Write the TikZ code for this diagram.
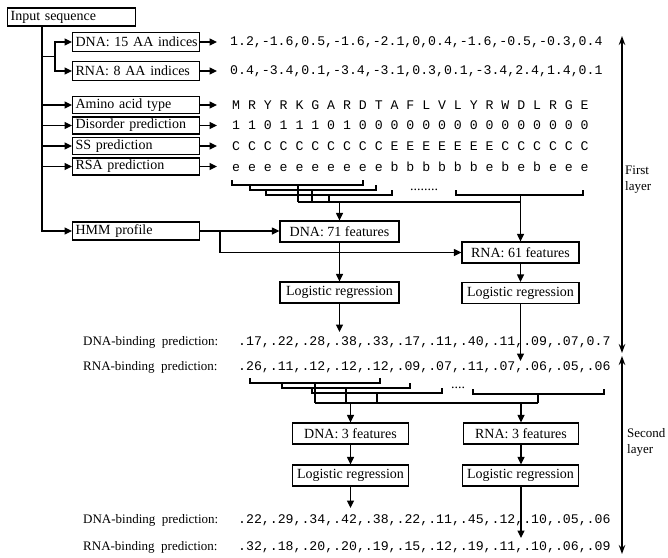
\documentclass[tikz,border=0pt]{standalone}
\usepackage{fontspec}
\setmainfont{Liberation Serif}
\newfontfamily\monofam{Liberation Mono}
\usetikzlibrary{arrows.meta}
\newcommand\myboxfont{\fontsize{14}{16}\selectfont}
\newcommand\mymono{\monofam\fontsize{13.2}{15}\selectfont}
\newcommand\mylab{\fontsize{13}{16}\selectfont}
\begin{document}
\begin{tikzpicture}[x=1pt,y=-1pt,
  lbox/.style={draw, line width=1.2pt, font=\myboxfont, inner xsep=3pt, inner ysep=0pt,
    minimum height=18pt, text width=121pt, align=left, anchor=west},
  cbox/.style={draw, line width=1.2pt, font=\myboxfont, inner sep=0pt, minimum height=21pt},
  vals/.style={font=\mymono, inner xsep=13pt, inner ysep=1pt, anchor=west},
  pv/.style={font=\mymono, inner sep=0pt, anchor=west},
  lab/.style={font=\mylab, inner sep=0pt, anchor=west},
  side/.style={font=\mylab, inner sep=0pt, anchor=west, align=left},
  dotsty/.style={font=\myboxfont, inner sep=0pt},
  arr/.style={line width=1.2pt, -{Triangle[length=7.5pt,width=7pt]}},
  ln/.style={line width=1.2pt},
  dbl/.style={line width=1.3pt, {Stealth[length=9pt,width=6.5pt]}-{Stealth[length=9pt,width=6.5pt]}}]
\useasboundingbox (0,0) rectangle (668,557);

% ---------- first layer boxes ----------
\node[lbox, text width=122pt] (in) at (7,17) {Input sequence};
\node[lbox, minimum height=19pt] (dna15) at (72,42) {\mbox{DNA: 15 AA indices}};
\node[lbox, minimum height=19pt] (rna8) at (72,71) {RNA: 8 AA indices};
\node[lbox, minimum height=17pt] (aa) at (72,105) {Amino acid type};
\node[lbox, minimum height=17pt] (dis) at (72,125.5) {Disorder prediction};
\node[lbox, minimum height=17pt] (ss) at (72,146) {SS prediction};
\node[lbox, minimum height=17pt] (rsa) at (72,166.5) {RSA prediction};
\node[lbox] (hmm) at (72,231) {HMM profile};

% ---------- value rows ----------
\node[vals] (v1) at (217,42) {1.2,-1.6,0.5,-1.6,-2.1,0,0.4,-1.6,-0.5,-0.3,0.4};
\node[vals] (v2) at (217,71) {0.4,-3.4,0.1,-3.4,-3.1,0.3,0.1,-3.4,2.4,1.4,0.1};
\node[vals, inner xsep=15pt] (v3) at (217,105) {M R Y R K G A R D T A F L V L Y R W D L R G E};
\node[vals, inner xsep=15pt] (v4) at (217,125.5) {1 1 0 1 1 1 0 1 0 0 0 0 0 0 0 0 0 0 0 0 0 0 0};
\node[vals, inner xsep=15pt] (v5) at (217,146) {C C C C C C C C C C E E E E E E E C C C C C C};
\node[vals, inner xsep=15pt] (v6) at (217,166.5) {e e e e e e e e e e b b b b b b e b e b e e e};

% ---------- trunk and branches ----------
\coordinate (tr) at (42,26);
\coordinate (br) at (55,56.5);
\draw[arr] (tr) |- (hmm.west);
\draw[ln] (tr |- br) -- (br);
\draw[arr] (br) |- (dna15.west);
\draw[arr] (br) |- (rna8.west);
\draw[arr] (tr |- aa.west) -- (aa.west);
\draw[arr] (tr |- dis.west) -- (dis.west);
\draw[arr] (tr |- ss.west) -- (ss.west);
\draw[arr] (tr |- rsa.west) -- (rsa.west);
\foreach \a/\b in {dna15/v1, rna8/v2, aa/v3, dis/v4, ss/v5, rsa/v6}
  \draw[arr] (\a.east) -- (\a.east -| \b.west);

% ---------- first-layer feature boxes ----------
\node[cbox, minimum width=119pt] (dna71) at (339.5,231.5) {DNA: 71 features};
\node[cbox, minimum width=117pt] (rna61) at (520.5,252.5) {RNA: 61 features};
\node[cbox, minimum width=119pt] (lrL) at (339.5,292.5) {Logistic regression};
\node[cbox, minimum width=117pt] (lrR) at (520.5,293) {Logistic regression};

% brackets (first layer)
\draw[ln] (232,180) -- (232,185) -- (363,185) -- (363,180);
\draw[ln] (250,185) -- (250,190) -- (376,190) -- (376,185);
\draw[ln] (266,190) -- (266,195) -- (392,195) -- (392,190);
\draw[ln] (456,190) -- (456,195) -- (583,195) -- (583,190);
\node[dotsty] (dots1) at (424,190) {........};
\coordinate (j1) at (298,202);
\coordinate (j2) at (520.5,202);
\draw[ln] (298,185) -- (j1);
\draw[ln] (312,190) -- (312,202);
\draw[ln] (329,195) -- (329,202);
\draw[ln] (j1) -- (j2);
\draw[arr] (dna71.north |- j1) -- (dna71.north);
\draw[arr] (rna61.north |- 0,195) -- (rna61.north);

\coordinate (hb) at (220,231);
\draw[arr] (hmm.east) -- (hmm.east -| dna71.west);
\draw[arr] (hb) |- (rna61.west);
\draw[arr] (dna71.south) -- (lrL.north);
\draw[arr] (rna61.south) -- (lrR.north);

% ---------- first-layer predictions ----------
\node[lab] (dl1) at (83,342) {DNA-binding\ \ prediction:};
\node[lab] (rl1) at (83,367.5) {RNA-binding\ \ prediction:};
\node[pv] (dp1) at (238,342) {.17,.22,.28,.38,.33,.17,.11,.40,.11,.09,.07,0.7};
\node[pv] (rp1) at (238,367.5) {.26,.11,.12,.12,.12,.09,.07,.11,.07,.06,.05,.06};
\coordinate (e1) at (339.5,332);
\coordinate (e2) at (520.5,361);
\draw[arr] (lrL.south) -- (e1);
\draw[arr] (lrR.south) -- (e2);

% ---------- second layer ----------
\draw[ln] (250,378) -- (250,383) -- (380,383) -- (380,378);
\draw[ln] (282,383) -- (282,388) -- (410,388) -- (410,383);
\draw[ln] (312,388) -- (312,393) -- (442,393) -- (442,388);
\draw[ln] (473,389) -- (473,394) -- (604,394) -- (604,389);
\node[dotsty] (dots2) at (458,388) {....};
\coordinate (k1) at (315,403);
\coordinate (k2) at (538,403);
\draw[ln] (315,383) -- (k1);
\draw[ln] (346,388) -- (346,403);
\draw[ln] (377,393) -- (377,403);
\draw[ln] (538,394) -- (k2);
\draw[ln] (k1) -- (k2);

\node[cbox, minimum width=116pt] (dna3) at (350.5,433.5) {DNA: 3 features};
\node[cbox, minimum width=115pt] (rna3) at (521,433.5) {RNA: 3 features};
\node[cbox, minimum width=116pt] (lr2L) at (350.5,475.5) {Logistic regression};
\node[cbox, minimum width=116pt] (lr2R) at (520.5,475.5) {Logistic regression};
\draw[arr] (dna3.north |- k1) -- (dna3.north);
\draw[arr] (rna3.north |- k1) -- (rna3.north);
\draw[arr] (dna3.south) -- (dna3.south |- lr2L.north);
\draw[arr] (rna3.south) -- (rna3.south |- lr2R.north);

\node[lab] (dl2) at (83,520) {DNA-binding\ \ prediction:};
\node[lab] (rl2) at (83,547) {RNA-binding\ \ prediction:};
\node[pv] (dp2) at (238,520) {.22,.29,.34,.42,.38,.22,.11,.45,.12,.10,.05,.06};
\node[pv] (rp2) at (238,547) {.32,.18,.20,.20,.19,.15,.12,.19,.11,.10,.06,.09};
\coordinate (f1) at (350.5,508);
\coordinate (f2) at (521,538);
\draw[arr] (lr2L.south -| f1) -- (f1);
\draw[arr] (lr2R.south -| f2) -- (f2);

% ---------- layer arrows ----------
\coordinate (a1) at (622,36);
\coordinate (a2) at (622,353);
\coordinate (a3) at (622,356);
\coordinate (a4) at (622,554);
\draw[dbl] (a1) -- (a2);
\draw[dbl] (a3) -- (a4);
\node[side] (first) at (625,180) {First\\layer};
\node[side] (second) at (627,442) {Second\\layer};
\end{tikzpicture}
\end{document}
